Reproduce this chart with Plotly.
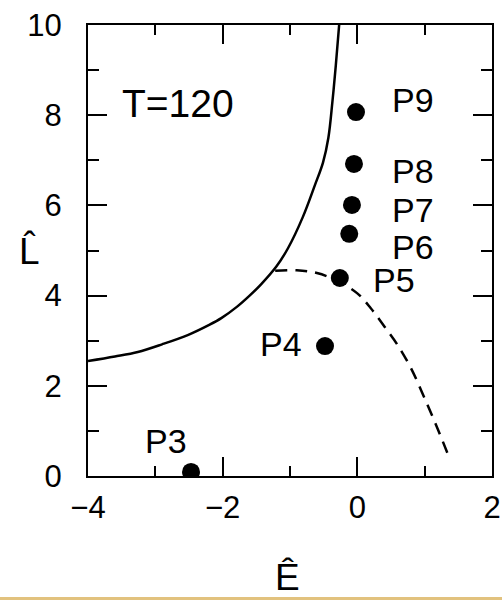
import plotly.graph_objects as go

# Solid boundary curve (E, L)
E_solid = [-4.0, -3.6, -3.26, -2.9, -2.51, -2.2, -2.02, -1.79, -1.6, -1.43,
           -1.2, -1.03, -0.81, -0.63, -0.51, -0.43, -0.37, -0.32, -0.27]
L_solid = [2.55, 2.65, 2.75, 2.92, 3.13, 3.35, 3.5, 3.75, 4.0, 4.25,
           4.65, 5.05, 5.74, 6.45, 6.95, 7.5, 8.3, 9.1, 10.0]

# Dashed curve (E, L)
E_dashed = [-1.22, -0.9, -0.6, -0.3, 0.0, 0.2, 0.41, 0.6, 0.8, 1.0, 1.2, 1.38]
L_dashed = [4.55, 4.56, 4.5, 4.33, 4.05, 3.72, 3.3, 2.9, 2.38, 1.72, 1.02, 0.35]

# Labelled states
point_names = ["P3", "P4", "P5", "P6", "P7", "P8", "P9"]
point_E = [-2.47, -0.48, -0.26, -0.12, -0.08, -0.05, -0.02]
point_L = [0.09, 2.88, 4.39, 5.37, 6.01, 6.92, 8.07]

x_ticks = [-4, -2, 0, 2]
y_ticks = [0, 2, 4, 6, 8, 10]

FONT = "Liberation Sans, Arial, sans-serif"

fig = go.Figure()
fig.add_trace(go.Scatter(x=E_solid, y=L_solid, mode="lines",
                         line=dict(color="black", width=2.5), line_shape="spline"))
fig.add_trace(go.Scatter(x=E_dashed, y=L_dashed, mode="lines",
                         line=dict(color="black", width=2.5, dash="12px,8px"),
                         line_shape="spline"))
fig.add_trace(go.Scatter(x=point_E, y=point_L, mode="markers",
                         marker=dict(color="black", size=18)))

# label offsets in pixels (right, up) relative to each point
label_shift = {"P3": (-25, 31), "P4": (-44, 2), "P5": (54, -2), "P6": (64, -13),
               "P7": (61, -5), "P8": (59, -7), "P9": (57, 12)}
for name, ex, ly in zip(point_names, point_E, point_L):
    dx, dy = label_shift[name]
    fig.add_annotation(x=ex, y=ly, xref="x", yref="y", text=name, showarrow=False,
                       xshift=dx, yshift=dy, font=dict(family=FONT, size=34, color="black"))

fig.add_annotation(x=-2.66, y=8.27, xref="x", yref="y", text="T=120", showarrow=False,
                   font=dict(family=FONT, size=39, color="black"))

# axis titles: letters with a combining circumflex (hat)
fig.add_annotation(x=-0.1436, y=0.50, xref="paper", yref="paper", text="L\u0302",
                   xanchor="center", yanchor="middle", showarrow=False,
                   font=dict(family=FONT, size=37, color="black"))
fig.add_annotation(x=0.4926, y=-0.226, xref="paper", yref="paper", text="E\u0302",
                   xanchor="center", yanchor="middle", showarrow=False,
                   font=dict(family=FONT, size=37, color="black"))

# thin gold band along the bottom edge
fig.add_shape(type="rect", xref="paper", yref="paper", x0=-0.3, x1=1.1,
              y0=-0.2749, y1=-0.2683, fillcolor="#E2C27E", line_width=0, layer="above")

axis_common = dict(showline=True, linecolor="black", linewidth=2, mirror="ticks",
                   ticks="inside", ticklen=19, tickwidth=2, tickcolor="black",
                   showgrid=False, zeroline=False, automargin=False,
                   tickfont=dict(family=FONT, size=31, color="black"))

fig.update_xaxes(range=[-4, 2], tickvals=x_ticks, ticklabelstandoff=3,
                 minor=dict(dtick=1, tick0=0, ticks="inside", ticklen=10,
                            tickwidth=2, tickcolor="black", showgrid=False),
                 **axis_common)
fig.update_yaxes(range=[0, 10], tickvals=y_ticks, ticklabelstandoff=18,
                 minor=dict(dtick=1, tick0=0, ticks="inside", ticklen=11,
                            tickwidth=2, tickcolor="black", showgrid=False),
                 **axis_common)

fig.update_layout(width=502, height=600, showlegend=False,
                  margin=dict(l=88, r=10, t=25, b=124),
                  paper_bgcolor="white", plot_bgcolor="white")

fig.write_html("out.html")
